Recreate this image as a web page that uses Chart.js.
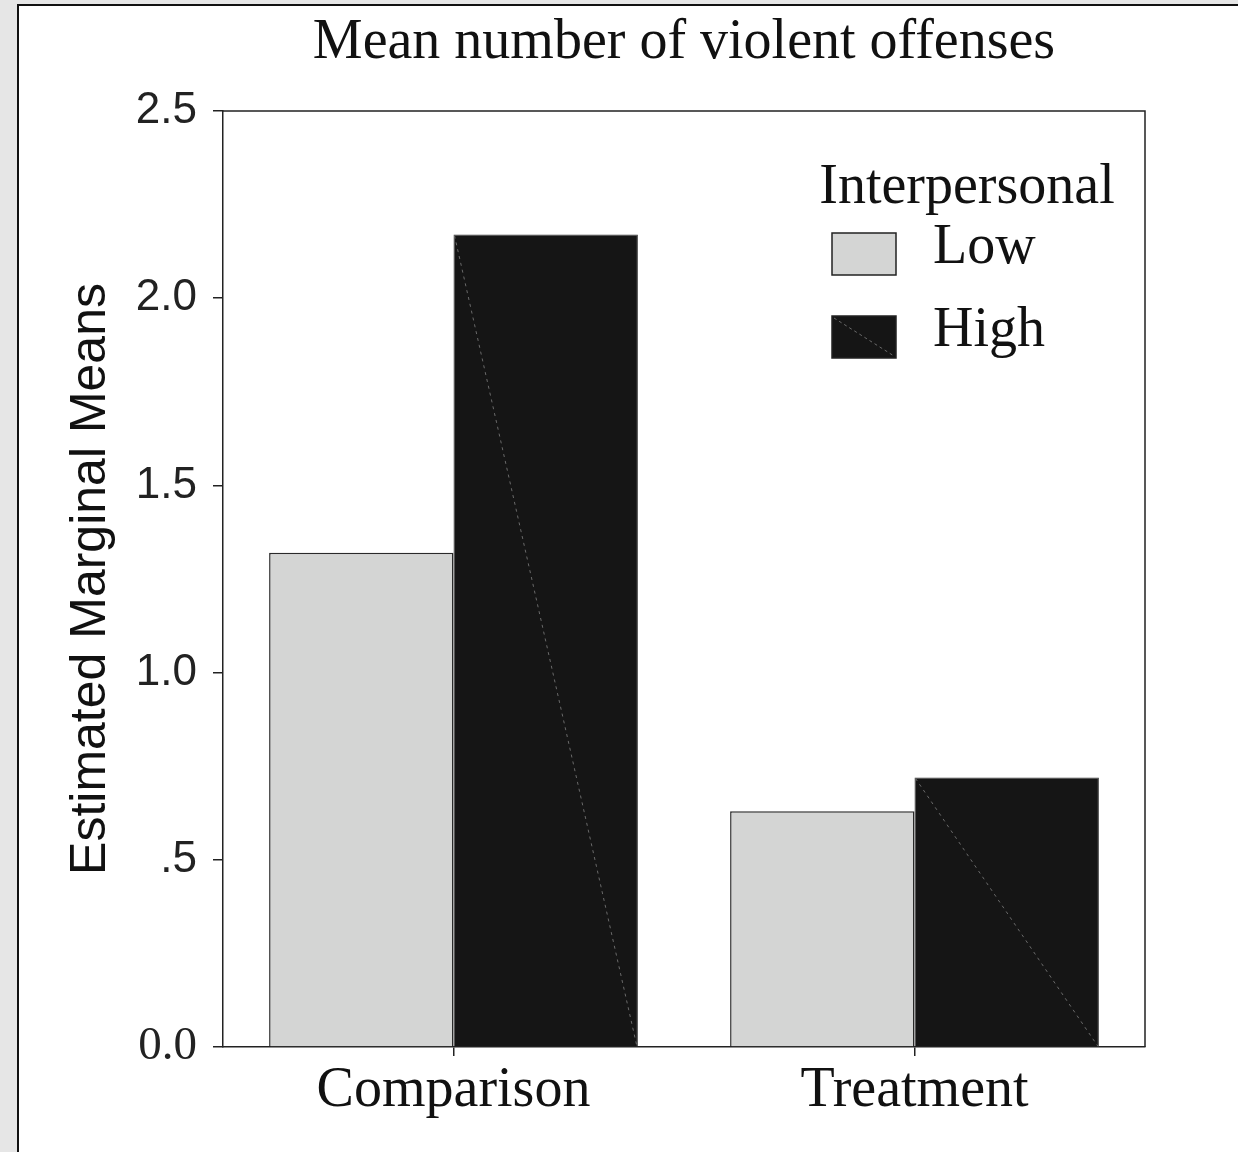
<!DOCTYPE html>
<html>
<head>
<meta charset="utf-8">
<script src="https://cdn.jsdelivr.net/npm/chart.js@4"></script>
<style>
  html, body { margin: 0; padding: 0; background: #e6e6e6; overflow: hidden; width: 1238px; height: 1152px; }
  #panel { position: absolute; left: 17px; top: 4px; width: 1300px; height: 1300px; background: #fff; border: 2px solid #111; }
  #chart { position: absolute; left: 0; top: 0; }
</style>
</head>
<body>
<div id="panel"></div>
<canvas id="chart" width="1238" height="1152"></canvas>
<script>
// Data
const groups = ['Comparison', 'Treatment'];
const seriesNames = ['Low', 'High'];
const lowMeans = [1.32, 0.63];
const highMeans = [2.17, 0.72];
const yTicks = [0, 0.5, 1.0, 1.5, 2.0, 2.5];

const serif = '"Liberation Serif", "Times New Roman", serif';
const sans = '"Liberation Sans", Arial, sans-serif';
const lowFill = '#d4d5d4';
const highFill = '#151515';

// top/right frame lines + diagonal hairline in the dark bars
const framePlugin = {
    id: 'frame',
    afterDatasetsDraw(chart) {
        const ctx = chart.ctx;
        const a = chart.chartArea;
        ctx.save();
        const meta = chart.getDatasetMeta(1);
        ctx.strokeStyle = '#6a6a6a';
        ctx.lineWidth = 1;
        ctx.setLineDash([3, 4]);
        meta.data.forEach(bar => {
            const p = bar.getProps(['x', 'y', 'base', 'width'], true);
            ctx.beginPath();
            ctx.moveTo(p.x - p.width / 2 + 1, p.y + 1);
            ctx.lineTo(p.x + p.width / 2 - 1, p.base);
            ctx.stroke();
        });
        ctx.setLineDash([]);
        ctx.strokeStyle = '#222';
        ctx.lineWidth = 1.5;
        ctx.beginPath();
        ctx.moveTo(a.left, a.top);
        ctx.lineTo(a.right, a.top);
        ctx.lineTo(a.right, a.bottom);
        ctx.stroke();
        ctx.restore();
    }
};

// legend drawn inside the plot, top right
const legendPlugin = {
    id: 'innerLegend',
    afterDraw(chart) {
        const ctx = chart.ctx;
        const a = chart.chartArea;
        const x0 = a.right - 313;
        const y0 = a.top;
        ctx.save();
        ctx.fillStyle = '#111';
        ctx.font = '56px ' + serif;
        ctx.textAlign = 'center';
        ctx.textBaseline = 'alphabetic';
        ctx.fillText('Interpersonal', x0 + 135, y0 + 92);
        ctx.textAlign = 'left';
        chart.data.datasets.forEach((ds, i) => {
            const by = y0 + 122 + i * 83;
            ctx.fillStyle = ds.backgroundColor;
            ctx.fillRect(x0, by, 64, 42);
            ctx.strokeStyle = '#222';
            ctx.lineWidth = 1.5;
            ctx.strokeRect(x0, by, 64, 42);
            if (i === 1) {
                ctx.strokeStyle = '#6a6a6a';
                ctx.lineWidth = 1;
                ctx.setLineDash([3, 3]);
                ctx.beginPath();
                ctx.moveTo(x0 + 2, by + 2);
                ctx.lineTo(x0 + 62, by + 40);
                ctx.stroke();
                ctx.setLineDash([]);
            }
            ctx.fillStyle = '#111';
            ctx.fillText(ds.label, x0 + 101, by + 30);
        });
        ctx.restore();
    }
};

new Chart(document.getElementById('chart'), {
    type: 'bar',
    data: {
        labels: groups,
        datasets: [
            { label: seriesNames[0], data: lowMeans, backgroundColor: lowFill, borderColor: '#2a2a2a', borderWidth: 1.5 },
            { label: seriesNames[1], data: highMeans, backgroundColor: highFill, borderColor: '#3a3a3a', borderWidth: 1 }
        ]
    },
    options: {
        responsive: false,
        devicePixelRatio: 1,
        animation: false,
        layout: { padding: { left: 0, top: 0, right: 93, bottom: 0 } },
        datasets: { bar: { categoryPercentage: 0.8, barPercentage: 1.0, borderSkipped: 'bottom' } },
        plugins: {
            legend: { display: false },
            tooltip: { enabled: false },
            title: {
                display: true,
                fullSize: false,
                text: 'Mean number of violent offenses',
                color: '#111',
                font: { family: serif, size: 56, weight: 'normal', lineHeight: 1.2 },
                padding: { top: 10, bottom: 33.8 }
            }
        },
        scales: {
            x: {
                grid: { display: true, drawOnChartArea: false, offset: false, drawTicks: true, tickLength: 9, color: '#222', lineWidth: 1.5 },
                border: { display: true, color: '#222', width: 1.5 },
                ticks: { color: '#111', padding: 7, font: { family: serif, size: 56, lineHeight: 1.0 } },
                afterFit: scale => { scale.height = 105; }
            },
            y: {
                min: 0,
                max: 2.5,
                afterBuildTicks: scale => { scale.ticks = yTicks.map(v => ({ value: v })); },
                grid: { display: true, drawOnChartArea: false, drawTicks: true, tickLength: 10, color: '#222', lineWidth: 1.5 },
                border: { display: true, color: '#222', width: 1.5 },
                ticks: {
                    color: '#222',
                    padding: 16,
                    callback: v => v === 0.5 ? '.5' : v.toFixed(1),
                    font: ctx => (ctx.tick && ctx.tick.value === 0)
                        ? { family: serif, size: 47 }
                        : { family: sans, size: 44 }
                },
                title: {
                    display: true,
                    text: 'Estimated Marginal Means',
                    color: '#111',
                    font: { family: sans, size: 50, lineHeight: 1.2 },
                    padding: { top: 61, bottom: 0 }
                },
                afterFit: scale => { scale.width = 223; }
            }
        }
    },
    plugins: [framePlugin, legendPlugin]
});
</script>
</body>
</html>
